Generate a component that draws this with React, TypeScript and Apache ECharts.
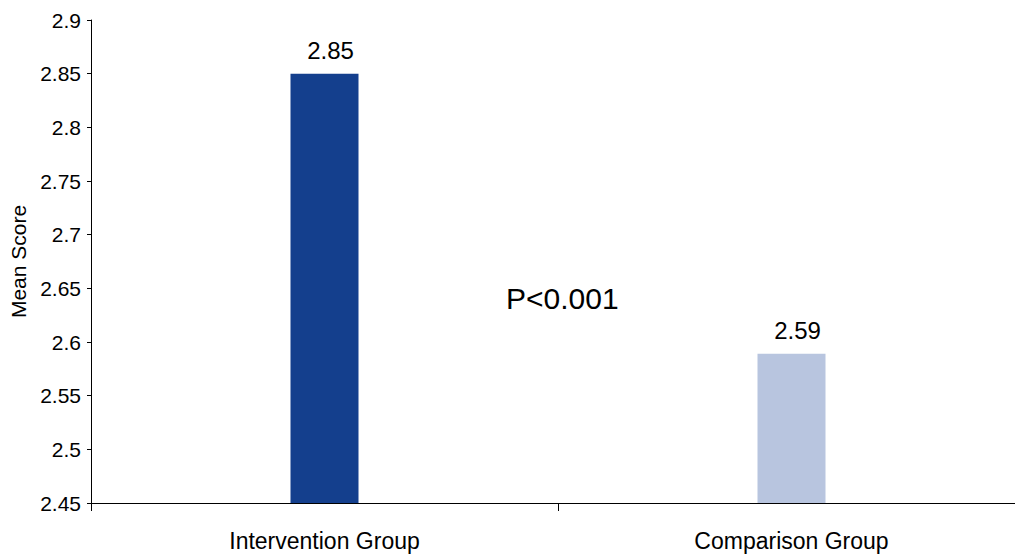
import React, { useEffect, useRef } from "react";
import * as echarts from "echarts";

const categories = ["Intervention Group", "Comparison Group"];
const meanScores = [2.85, 2.589];
const valueLabels = ["2.85", "2.59"];
const barColors = ["#143F8D", "#B8C5DF"];
const yAxisTitle = "Mean Score";
const annotation = "P<0.001";
const yMin = 2.45;
const yMax = 2.9;
const yStep = 0.05;

const FONT = "'Liberation Sans', Arial, Helvetica, sans-serif";

export default function App() {
  const ref = useRef<HTMLDivElement>(null);

  useEffect(() => {
    document.body.style.margin = "0";
    if (!ref.current) return;
    const chart = echarts.init(ref.current, undefined, { renderer: "svg" });
    chart.setOption({
      animation: false,
      backgroundColor: "#ffffff",
      grid: { left: 91, top: 20, bottom: 51, width: 934, outerBoundsMode: "none" },
      xAxis: {
        type: "category",
        data: categories,
        axisLine: { show: true, lineStyle: { color: "#000", width: 1 } },
        axisTick: { show: true, length: 8, lineStyle: { color: "#000", width: 1 } },
        axisLabel: {
          color: "#000",
          fontFamily: FONT,
          fontSize: 23,
          margin: 26,
        },
        splitLine: { show: false },
      },
      yAxis: {
        type: "value",
        min: yMin,
        max: yMax,
        interval: yStep,
        name: yAxisTitle,
        nameLocation: "middle",
        nameGap: 59,
        nameRotate: 90,
        nameTextStyle: { color: "#000", fontFamily: FONT, fontSize: 21 },
        axisLine: { show: true, lineStyle: { color: "#000", width: 1 } },
        axisTick: { show: true, length: 4, lineStyle: { color: "#000", width: 1 } },
        axisLabel: {
          color: "#000",
          fontFamily: FONT,
          fontSize: 21,
          margin: 10,
          formatter: (v: number) => String(parseFloat(v.toFixed(2))),
        },
        splitLine: { show: false },
      },
      series: [
        {
          type: "bar",
          barWidth: 68,
          data: meanScores.map((v, i) => ({
            value: v,
            itemStyle: { color: barColors[i] },
            label: {
              show: true,
              position: "top",
              distance: 11,
              offset: [6, 0],
              color: "#000",
              fontFamily: FONT,
              fontSize: 24,
              formatter: valueLabels[i],
            },
          })),
        },
      ],
      graphic: [
        {
          type: "text",
          left: 506,
          top: 283,
          style: {
            text: annotation,
            fill: "#000",
            font: `30px ${FONT}`,
          },
        },
      ],
    });
    return () => chart.dispose();
  }, []);

  return <div ref={ref} style={{ width: 1015, height: 554 }} />;
}
